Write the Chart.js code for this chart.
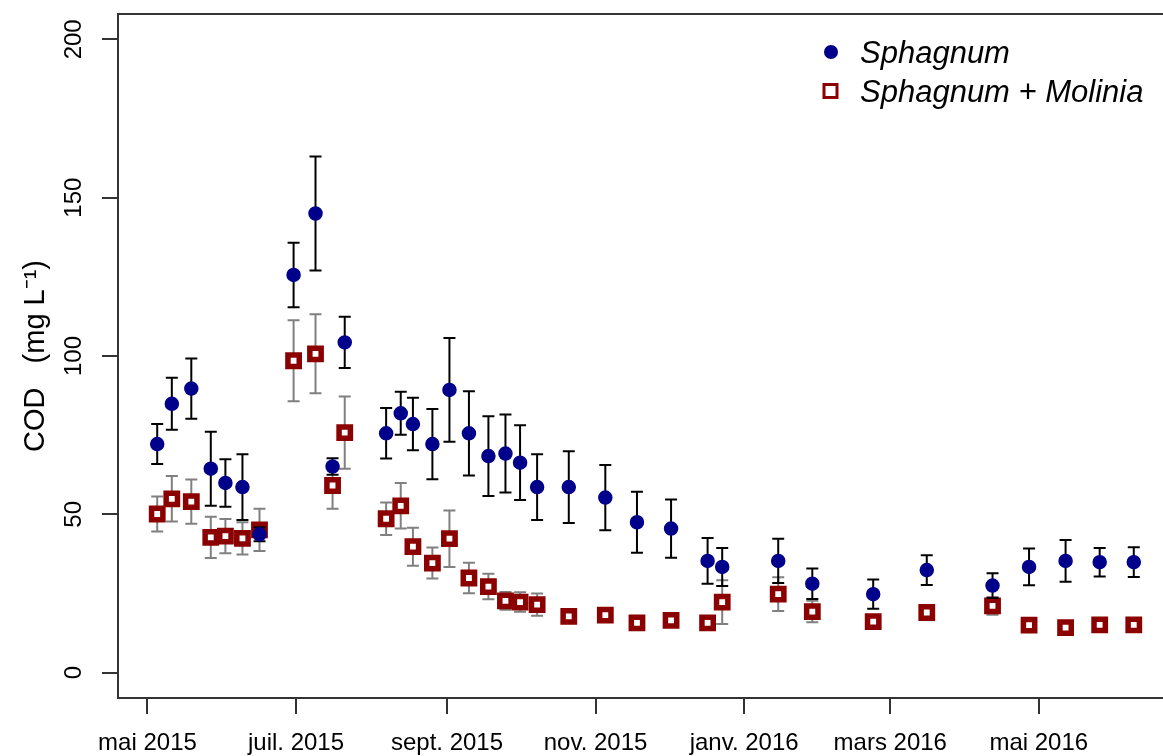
<!DOCTYPE html>
<html>
<head>
<meta charset="utf-8">
<script src="https://cdn.jsdelivr.net/npm/chart.js@4.4.0/dist/chart.umd.min.js"></script>
<style>
  html, body { margin: 0; padding: 0; background: #fff; overflow: hidden; }
  #wrap { width: 1163px; height: 756px; }
</style>
</head>
<body>
<div id="wrap"><canvas id="cod-chart" width="1163" height="756"></canvas></div>
<script>
// sampling dates (both treatments sampled the same days)
var sampleDates = [
    '2015-05-05', '2015-05-11', '2015-05-19', '2015-05-27', '2015-06-02', '2015-06-09', '2015-06-16',
    '2015-06-30', '2015-07-09', '2015-07-16', '2015-07-21', '2015-08-07', '2015-08-13', '2015-08-18',
    '2015-08-26', '2015-09-02', '2015-09-10', '2015-09-18', '2015-09-25', '2015-10-01', '2015-10-08',
    '2015-10-21', '2015-11-05', '2015-11-18', '2015-12-02', '2015-12-17', '2015-12-23', '2016-01-15',
    '2016-01-29', '2016-02-23', '2016-03-16', '2016-04-12', '2016-04-27', '2016-05-12', '2016-05-26',
    '2016-06-09'
];

// COD means (mg/L) and standard errors
var sphagnum = [72.2, 84.9, 89.7, 64.4, 59.9, 58.6, 43.7, 125.6, 145.0, 65.1, 104.3, 75.6, 81.9, 78.5,
    72.2, 89.3, 75.6, 68.4, 69.2, 66.3, 58.6, 58.6, 55.3, 47.5, 45.5, 35.3, 33.4, 35.3, 28.1, 24.8,
    32.4, 27.5, 33.4, 35.3, 34.9, 34.9];
var sphagnumSE = [6.3, 8.2, 9.5, 11.7, 7.5, 10.4, 2.2, 10.2, 18.0, 2.6, 8.1, 8.0, 6.8, 8.3, 11.1, 16.4,
    13.3, 12.6, 12.3, 11.8, 10.4, 11.3, 10.3, 9.6, 9.2, 7.2, 6.0, 7.0, 4.8, 4.6, 4.7, 3.9, 5.8, 6.6,
    4.5, 4.7];

var molinia = [50.1, 54.9, 54.0, 42.7, 43.1, 42.4, 45.1, 98.5, 100.7, 59.1, 75.8, 48.6, 52.7, 39.8,
    34.6, 42.3, 29.9, 27.2, 22.7, 22.3, 21.5, 17.8, 18.2, 15.7, 16.5, 15.7, 22.3, 24.8, 19.3, 16.1,
    19.0, 21.1, 15.0, 14.2, 15.1, 15.1];
var moliniaSE = [5.5, 7.2, 7.0, 6.5, 5.4, 5.1, 6.7, 12.8, 12.5, 7.3, 11.4, 5.1, 7.2, 6.0, 4.9, 8.9,
    4.8, 4.0, 2.8, 3.1, 3.5, 1.5, 1.5, 1.0, 1.5, 1.0, 6.9, 5.3, 3.4, 1.5, 1.2, 2.8, 1.0, 1.0, 1.0, 1.0];

var tickDates = ['2015-05-01', '2015-07-01', '2015-09-01', '2015-11-01', '2016-01-01', '2016-03-01', '2016-05-01'];
var tickLabels = ['mai 2015', 'juil. 2015', 'sept. 2015', 'nov. 2015', 'janv. 2016', 'mars 2016', 'mai 2016'];
var yTicks = [0, 50, 100, 150, 200];

var FONT = "'Liberation Sans', Arial, sans-serif";
var origin = Date.UTC(2015, 4, 1);

// days since 1 May 2015
function dayNum(s) {
    var p = s.split('-');
    return (Date.UTC(+p[0], +p[1] - 1, +p[2]) - origin) / 86400000;
}

function toPoints(values) {
    return values.map(function (v, i) {
        return {x: dayNum(sampleDates[i]), y: v};
    });
}

// vertical error bars, drawn just under each dataset's markers
const errorBars = {
    id: 'errorBars',
    beforeDatasetDraw(chart, args) {
        const ds = chart.data.datasets[args.index];
        if (!ds.errors) return;
        const ctx = chart.ctx;
        const xs = chart.scales.x, ys = chart.scales.y;
        ctx.save();
        ctx.strokeStyle = ds.errorColor;
        ctx.lineWidth = 2;
        ds.data.forEach(function (p, i) {
            const px = xs.getPixelForValue(p.x);
            const top = ys.getPixelForValue(p.y + ds.errors[i]);
            const bot = ys.getPixelForValue(p.y - ds.errors[i]);
            ctx.beginPath();
            ctx.moveTo(px, top); ctx.lineTo(px, bot);
            ctx.moveTo(px - 6, top); ctx.lineTo(px + 6, top);
            ctx.moveTo(px - 6, bot); ctx.lineTo(px + 6, bot);
            ctx.stroke();
        });
        ctx.restore();
    }
};

// top side of the box (bottom and left come from the axes)
const frameTop = {
    id: 'frameTop',
    afterDraw(chart) {
        const a = chart.chartArea, ctx = chart.ctx;
        ctx.save();
        ctx.strokeStyle = '#333';
        ctx.lineWidth = 2;
        ctx.beginPath();
        ctx.moveTo(a.left - 1, a.top);
        ctx.lineTo(a.right, a.top);
        ctx.stroke();
        ctx.restore();
    }
};

// legend in the top right corner of the plot
const insetLegend = {
    id: 'insetLegend',
    afterDraw(chart) {
        const ctx = chart.ctx;
        ctx.save();
        chart.data.datasets.forEach(function (ds, i) {
            const cy = 52 + i * 39;
            if (ds.pointStyle === 'circle') {
                ctx.fillStyle = ds.backgroundColor;
                ctx.beginPath();
                ctx.arc(831, cy, 7, 0, Math.PI * 2);
                ctx.fill();
            } else {
                ctx.strokeStyle = ds.borderColor;
                ctx.lineWidth = 3;
                ctx.strokeRect(824, cy - 6.5, 13, 13);
            }
            ctx.fillStyle = '#000';
            ctx.font = 'italic 31px ' + FONT;
            ctx.textBaseline = 'alphabetic';
            ctx.textAlign = 'left';
            ctx.fillText(ds.label, 860, cy + 11);
        });
        ctx.restore();
    }
};

const ctx = document.getElementById('cod-chart').getContext('2d');
new Chart(ctx, {
    type: 'scatter',
    data: {
        datasets: [
            {
                label: 'Sphagnum',
                data: toPoints(sphagnum),
                errors: sphagnumSE,
                errorColor: '#000',
                pointStyle: 'circle',
                pointRadius: 6.5,
                backgroundColor: '#00008B',
                borderColor: '#00008B',
                borderWidth: 1.5
            },
            {
                label: 'Sphagnum + Molinia',
                data: toPoints(molinia),
                errors: moliniaSE,
                errorColor: '#808080',
                pointStyle: 'rect',
                pointRadius: 8,
                backgroundColor: '#fff',
                borderColor: '#8B0000',
                borderWidth: 5.5
            }
        ]
    },
    options: {
        responsive: false,
        animation: false,
        layout: {autoPadding: false, padding: {top: 14, right: 0, bottom: 0, left: 0}},
        plugins: {
            legend: {display: false},
            title: {display: false},
            tooltip: {enabled: false}
        },
        scales: {
            x: {
                type: 'linear',
                min: -12.1,
                max: 417,
                afterBuildTicks: function (scale) {
                    scale.ticks = tickDates.map(function (d) { return {value: dayNum(d)}; });
                },
                afterFit: function (scale) {
                    scale.height = 58;
                    scale.paddingLeft = 0;
                    scale.paddingRight = 0;
                },
                grid: {drawOnChartArea: false, drawTicks: true, tickLength: 16, color: '#333', lineWidth: 2},
                border: {display: true, color: '#333', width: 2},
                ticks: {
                    autoSkip: false,
                    maxRotation: 0,
                    padding: 15,
                    color: '#000',
                    font: {family: FONT, size: 24},
                    callback: function (value, index) { return tickLabels[index]; }
                }
            },
            y: {
                min: -8,
                max: 208,
                afterBuildTicks: function (scale) {
                    scale.ticks = yTicks.map(function (v) { return {value: v}; });
                },
                afterFit: function (scale) {
                    scale.width = 118;
                    scale.paddingTop = 0;
                    scale.paddingBottom = 0;
                },
                grid: {drawOnChartArea: false, drawTicks: true, tickLength: 16, color: '#333', lineWidth: 2},
                border: {display: true, color: '#333', width: 2},
                ticks: {
                    minRotation: 90,
                    maxRotation: 90,
                    crossAlign: 'center',
                    padding: 8,
                    color: '#000',
                    font: {family: FONT, size: 24}
                },
                title: {
                    display: true,
                    text: 'COD   (mg L\u207B\u00B9)',
                    color: '#000',
                    font: {family: FONT, size: 29},
                    padding: {top: 19, bottom: 0}
                }
            }
        }
    },
    plugins: [errorBars, frameTop, insetLegend]
});
</script>
</body>
</html>
